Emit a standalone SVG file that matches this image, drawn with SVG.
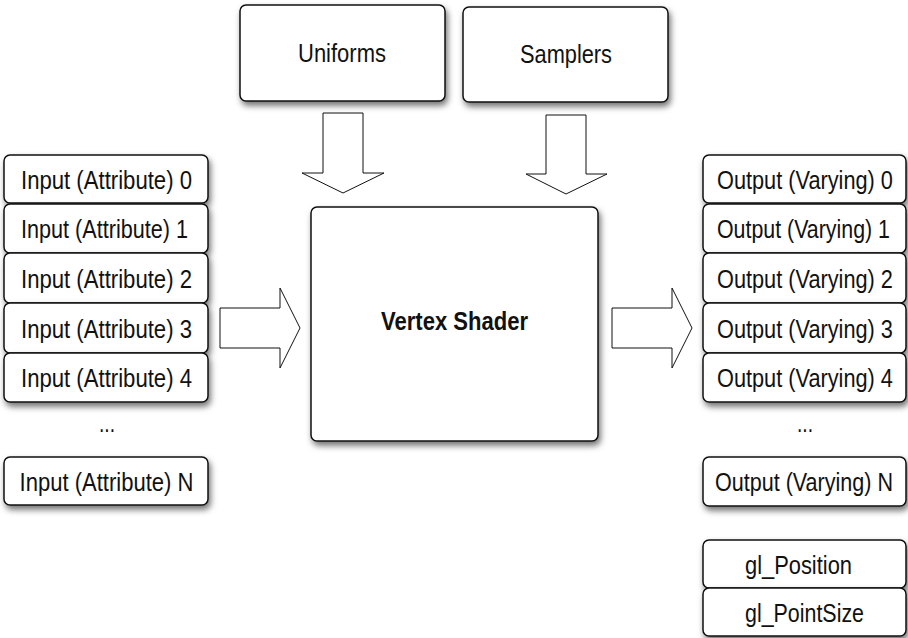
<svg xmlns="http://www.w3.org/2000/svg" width="908" height="638" viewBox="0 0 908 638">
<style>
.box{fill:#fff;stroke:#111;stroke-width:1.5;filter:url(#sh)}
.t{font-family:"Liberation Sans Narrow","Arial Narrow","Liberation Sans",sans-serif;font-size:26px;fill:#111}
.b{font-weight:bold}
.arr{fill:#fff;stroke:#111;stroke-width:1}
</style>
<defs>
<filter id="sh" x="-10%" y="-20%" width="130%" height="160%">
<feDropShadow dx="2" dy="4" stdDeviation="3" flood-color="#000" flood-opacity="0.55"/>
</filter>
</defs>
<rect width="908" height="638" fill="#fff"/>
<g id="connectors">
<polygon class="arr" points="323,113 363,113 363,173 384,173 343,193 302,173 323,173"/>
<polygon class="arr" points="546,115 586,115 586,174 607,174 566,194 526,174 546,174"/>
<polygon class="arr" points="220,308 280,308 280,288 300,328 280,368 280,348 220,348"/>
<polygon class="arr" points="612,308 672,308 672,288 692,328 672,368 672,348 612,348"/>
</g>
<g id="uniforms"><rect class="box" x="240" y="5" width="205" height="96" rx="6"/><text class="t" x="298" y="62" textLength="88" lengthAdjust="spacingAndGlyphs">Uniforms</text></g>
<g id="samplers"><rect class="box" x="463" y="7" width="205" height="95" rx="6"/><text class="t" x="520" y="63" textLength="92" lengthAdjust="spacingAndGlyphs">Samplers</text></g>
<g id="vertex-shader"><rect class="box" x="311" y="207" width="287" height="234" rx="6"/><text class="t b" x="381" y="330" textLength="147" lengthAdjust="spacingAndGlyphs">Vertex Shader</text></g>
<g id="input-0"><rect class="box" x="4" y="155" width="204" height="48" rx="6"/><text class="t" x="21" y="188.5" textLength="171" lengthAdjust="spacingAndGlyphs">Input (Attribute) 0</text></g>
<g id="input-1"><rect class="box" x="4" y="204" width="204" height="49" rx="6"/><text class="t" x="21" y="238" textLength="167" lengthAdjust="spacingAndGlyphs">Input (Attribute) 1</text></g>
<g id="input-2"><rect class="box" x="4" y="253" width="204" height="50" rx="6"/><text class="t" x="21" y="287.5" textLength="171" lengthAdjust="spacingAndGlyphs">Input (Attribute) 2</text></g>
<g id="input-3"><rect class="box" x="4" y="303" width="204" height="50" rx="6"/><text class="t" x="21" y="337.5" textLength="171" lengthAdjust="spacingAndGlyphs">Input (Attribute) 3</text></g>
<g id="input-4"><rect class="box" x="4" y="353" width="204" height="49" rx="6"/><text class="t" x="21" y="387" textLength="171" lengthAdjust="spacingAndGlyphs">Input (Attribute) 4</text></g>
<g id="input-dots"><text class="t" x="99" y="432" textLength="16" lengthAdjust="spacingAndGlyphs">...</text></g>
<g id="input-n"><rect class="box" x="4" y="457" width="204" height="48" rx="6"/><text class="t" x="19.5" y="490.5" textLength="174" lengthAdjust="spacingAndGlyphs">Input (Attribute) N</text></g>
<g id="output-0"><rect class="box" x="703" y="155" width="203" height="48" rx="6"/><text class="t" transform="translate(717,188.5) scale(0.83,1)" textLength="212" lengthAdjust="spacingAndGlyphs">Output (Varying) 0</text></g>
<g id="output-1"><rect class="box" x="703" y="204" width="203" height="49" rx="6"/><text class="t" transform="translate(717,238) scale(0.83,1)" textLength="208.4" lengthAdjust="spacingAndGlyphs">Output (Varying) 1</text></g>
<g id="output-2"><rect class="box" x="703" y="253" width="203" height="50" rx="6"/><text class="t" transform="translate(717,287.5) scale(0.83,1)" textLength="212" lengthAdjust="spacingAndGlyphs">Output (Varying) 2</text></g>
<g id="output-3"><rect class="box" x="703" y="303" width="203" height="50" rx="6"/><text class="t" transform="translate(717,337.5) scale(0.83,1)" textLength="212" lengthAdjust="spacingAndGlyphs">Output (Varying) 3</text></g>
<g id="output-4"><rect class="box" x="703" y="353" width="203" height="49" rx="6"/><text class="t" transform="translate(717,387) scale(0.83,1)" textLength="212" lengthAdjust="spacingAndGlyphs">Output (Varying) 4</text></g>
<g id="output-dots"><text class="t" x="797" y="432" textLength="16" lengthAdjust="spacingAndGlyphs">...</text></g>
<g id="output-n"><rect class="box" x="703" y="457" width="203" height="49" rx="6"/><text class="t" transform="translate(715,491) scale(0.83,1)" textLength="214.5" lengthAdjust="spacingAndGlyphs">Output (Varying) N</text></g>
<g id="gl-position"><rect class="box" x="703" y="540" width="203" height="48" rx="6"/><text class="t" transform="translate(745,573.5) scale(0.83,1)" textLength="128.9" lengthAdjust="spacingAndGlyphs">gl_Position</text></g>
<g id="gl-pointsize"><rect class="box" x="703" y="588" width="203" height="48" rx="6"/><text class="t" transform="translate(745,621.5) scale(0.83,1)" textLength="143.4" lengthAdjust="spacingAndGlyphs">gl_PointSize</text></g>
</svg>
